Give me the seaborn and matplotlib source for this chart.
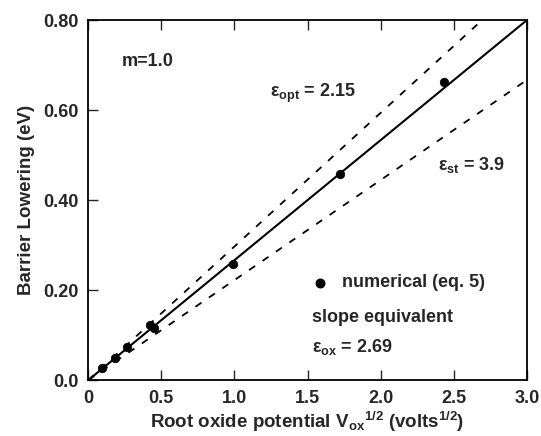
import matplotlib
matplotlib.use("Agg")
import matplotlib.pyplot as plt
import seaborn as sns
import pandas as pd

# data
num_x = [0.094, 0.18, 0.264, 0.424, 0.451, 0.989, 1.722, 2.433]
num_y = [0.028, 0.050, 0.074, 0.122, 0.116, 0.258, 0.459, 0.663]
line_x = [0.0, 3.0]
solid_y = [0.0, 0.80]      # eps_ox = 2.69
opt_y = [0.0, 0.891]       # eps_opt = 2.15
st_y = [0.0, 0.667]        # eps_st = 3.9
xticks = [0, 0.5, 1.0, 1.5, 2.0, 2.5, 3.0]
xtick_labels = ["0", "0.5", "1.0", "1.5", "2.0", "2.5", "3.0"]
yticks = [0.0, 0.2, 0.4, 0.6, 0.8]
ytick_labels = ["0.0", "0.20", "0.40", "0.60", "0.80"]

sns.set_style("ticks")
plt.rcParams['font.family'] = ['Liberation Sans', 'DejaVu Sans']
plt.rcParams['font.weight'] = 'bold'
plt.rcParams['mathtext.fontset'] = 'custom'
plt.rcParams['mathtext.rm'] = 'Liberation Sans:bold'
plt.rcParams['mathtext.it'] = 'Liberation Sans:bold'
plt.rcParams['mathtext.bf'] = 'Liberation Sans:bold'

FS = 13

fig = plt.figure(figsize=(5.41, 4.36), dpi=100)
ax = fig.add_axes([0.163, 0.128, 0.811, 0.826])

lines = pd.DataFrame({"x": line_x, "solid": solid_y, "opt": opt_y, "st": st_y})
sns.lineplot(data=lines, x="x", y="solid", ax=ax, color="black", lw=1.5)
sns.lineplot(data=lines, x="x", y="opt", ax=ax, color="black", lw=1.3, linestyle=(0, (4, 5)))
sns.lineplot(data=lines, x="x", y="st", ax=ax, color="black", lw=1.3, linestyle=(0, (4, 5)))
pts = pd.DataFrame({"x": num_x, "y": num_y})
sns.scatterplot(data=pts, x="x", y="y", ax=ax, color="black", s=38, edgecolor="black", zorder=5)

ax.set_xlim(0, 3.0)
ax.set_ylim(0, 0.80)
ax.set_xticks(xticks)
ax.set_xticklabels(xtick_labels)
ax.set_yticks(yticks)
ax.set_yticklabels(ytick_labels)
ax.tick_params(direction="in", length=7, width=1.0, labelsize=FS, top=True, right=False)
ax.tick_params(axis="y", pad=7)
ax.tick_params(axis="x", pad=7)
for lab in ax.get_xticklabels() + ax.get_yticklabels():
    lab.set_fontweight("bold")
for s in ax.spines.values():
    s.set_linewidth(1.3)
    s.set_color("black")

ax.set_xlabel(r"Root oxide potential V$_{\mathrm{ox}}$$^{\mathrm{1/2}}$ (volts$^{\mathrm{1/2}}$)",
              fontsize=13.5, fontweight="bold", labelpad=2)
ax.set_ylabel("Barrier Lowering (eV)", fontsize=13.5, fontweight="bold", labelpad=6)

ax.text(0.23, 0.707, "m=1.0", fontsize=FS, fontweight="bold", va="center")
ax.text(1.24, 0.638, r"$\mathrm{\varepsilon_{opt}}$ = 2.15", fontsize=FS, fontweight="bold", va="center")
ax.text(2.39, 0.478, r"$\mathrm{\varepsilon_{st}}$ = 3.9", fontsize=FS, fontweight="bold", va="center")
ax.scatter([1.586], [0.216], s=38, color="black", zorder=5)
ax.text(1.736, 0.218, "numerical (eq. 5)", fontsize=FS, fontweight="bold", va="center")
ax.text(1.53, 0.140, "slope equivalent", fontsize=FS, fontweight="bold", va="center")
ax.text(1.53, 0.073, r"$\mathrm{\varepsilon_{ox}}$ = 2.69", fontsize=FS, fontweight="bold", va="center")

fig.savefig("out.png", dpi=100)
